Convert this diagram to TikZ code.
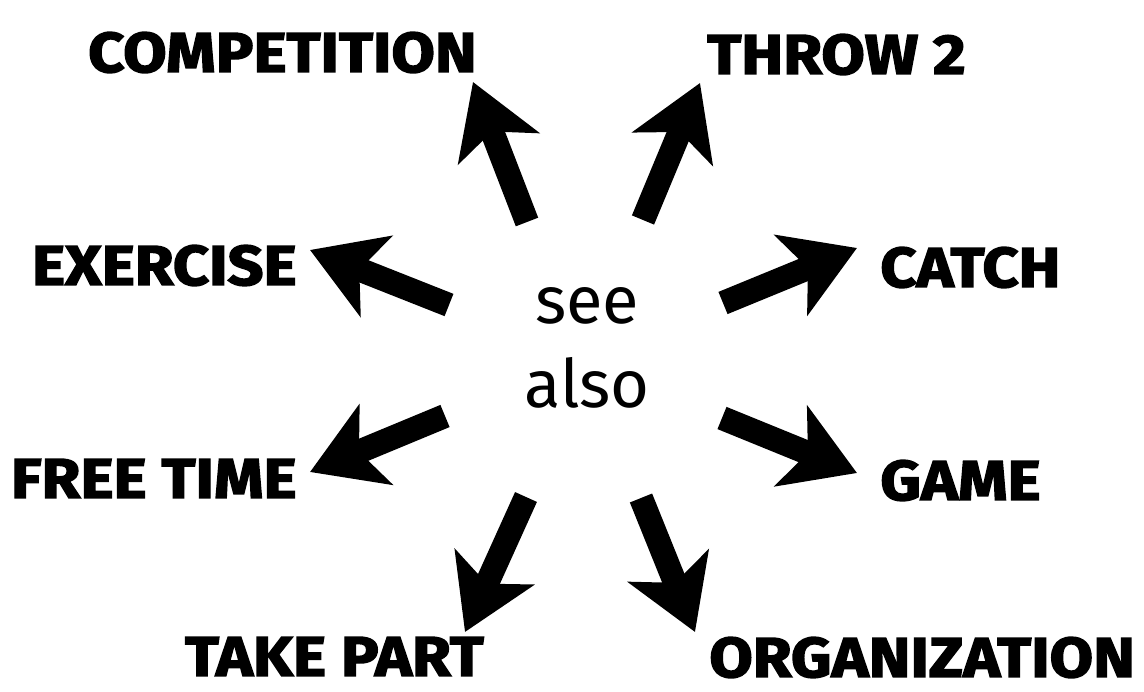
\documentclass[tikz,border=0pt]{standalone}
\usepackage{fontspec}
\newfontfamily\heavyfont{Fira Sans}[FakeStretch=1.12, BoldFeatures={FakeBold=2.6}]
\newfontfamily\lightfont{Fira Sans}
\usetikzlibrary{arrows.meta,calc}
\tikzset{
  lbl/.style ={inner sep=0pt, font=\heavyfont\bfseries\fontsize{32}{32}\selectfont},
  mid/.style ={inner sep=0pt, align=center, font=\lightfont\fontsize{38}{48}\selectfont},
  fat/.style ={-{Stealth[length=1.42cm, width=1.72cm, inset=0.36cm]}, line width=0.48cm},
}
\begin{document}
\begin{tikzpicture}[x=0.02cm, y=-0.02cm]
  \useasboundingbox (0,0) rectangle (1144,692);
  % centre
  \node[mid] (see) at (587,348) {see\\also};
  % the eight words round it
  \node[lbl, anchor=base east] (comp)  at (477,72)  {COMPETITION};
  \node[lbl, anchor=base west] (throw) at (707,74)  {THROW 2};
  \node[lbl, anchor=base east] (exer)  at (297,285) {EXERCISE};
  \node[lbl, anchor=base west] (catch) at (880,287) {CATCH};
  \node[lbl, anchor=base east] (free)  at (297,498) {FREE TIME};
  \node[lbl, anchor=base west] (game)  at (880,500) {GAME};
  \node[lbl, anchor=base east] (take)  at (484,676) {TAKE PART};
  \node[lbl, anchor=base west] (org)   at (709,677) {ORGANIZATION};
  % tails of the arrows
  \coordinate (tComp)  at (527,222);
  \coordinate (tThrow) at (643,220);
  \coordinate (tExer)  at (449,305);
  \coordinate (tCatch) at (723,303);
  \coordinate (tFree)  at (445,416);
  \coordinate (tGame)  at (722,418);
  \coordinate (tTake)  at (526,497);
  \coordinate (tOrg)   at (641,498);
  \draw[fat] (tComp)  -- ([shift={(-4,10)}]comp.base east);
  \draw[fat] (tThrow) -- ([shift={(-7,9)}]throw.base west);
  \draw[fat] (tExer)  -- ([shift={(13,-35)}]exer.base east);
  \draw[fat] (tCatch) -- ([shift={(-23,-39)}]catch.base west);
  \draw[fat] (tFree)  -- ([shift={(13,-26)}]free.base east);
  \draw[fat] (tGame)  -- ([shift={(-23,-27)}]game.base west);
  \draw[fat] (tTake)  -- ([shift={(-19,-44)}]take.base east);
  \draw[fat] (tOrg)   -- ([shift={(-14,-45)}]org.base west);
\end{tikzpicture}
\end{document}
